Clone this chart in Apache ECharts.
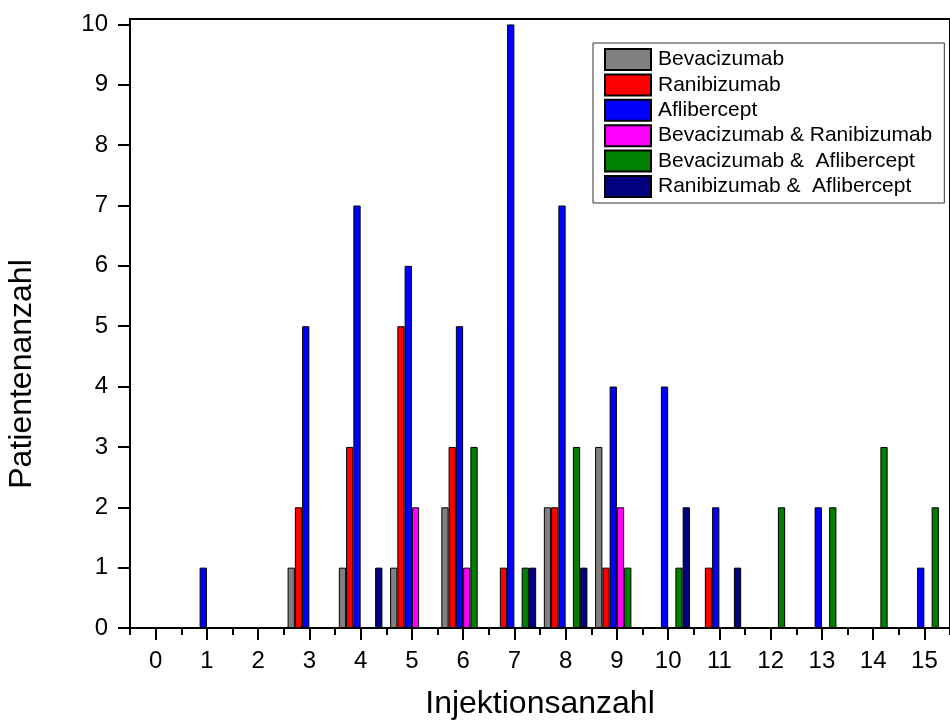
<!DOCTYPE html>
<html>
<head>
<meta charset="utf-8">
<script src="https://cdn.jsdelivr.net/npm/echarts@6/dist/echarts.min.js"></script>
<style>
html,body{margin:0;padding:0;background:#fff;}
#chart{width:950px;height:727px;}
</style>
</head>
<body>
<div id="chart"></div>
<script>
const categories = ['0','1','2','3','4','5','6','7','8','9','10','11','12','13','14','15'];
const yTicks = [0,1,2,3,4,5,6,7,8,9,10];
const bevacizumab   = [0,0,0,1,1,1,2,0,2,3,0,0,0,0,0,0];
const ranibizumab   = [0,0,0,2,3,5,3,1,2,1,0,1,0,0,0,0];
const aflibercept   = [0,1,0,5,7,6,5,10,7,4,4,2,0,2,0,1];
const bevaRani      = [0,0,0,0,0,2,1,0,0,2,0,0,0,0,0,0];
const bevaAfli      = [0,0,0,0,0,0,3,1,3,1,1,0,2,2,3,2];
const raniAfli      = [0,0,0,0,1,0,0,1,1,0,2,1,0,0,0,0];
const seriesNames = ['Bevacizumab','Ranibizumab','Aflibercept','Bevacizumab & Ranibizumab','Bevacizumab &  Aflibercept','Ranibizumab &  Aflibercept'];
const seriesColors = ['#808080','#ff0000','#0000ff','#ff00ff','#008000','#000080'];
const seriesData = [bevacizumab, ranibizumab, aflibercept, bevaRani, bevaAfli, raniAfli];

const FONT = 'Liberation Sans, Arial, sans-serif';
const chart = echarts.init(document.getElementById('chart'), null, {renderer:'canvas'});

const series = seriesNames.map((n,i)=>({
  name:n, type:'bar', xAxisIndex:0, yAxisIndex:0,
  data: seriesData[i].map(v => v === 0 ? null : v),
  barGap:'0%', barCategoryGap:'15%',
  itemStyle:{color:seriesColors[i], borderColor:'#000', borderWidth:1},
  emphasis:{disabled:true}, animation:false
}));

chart.setOption({
  animation:false,
  backgroundColor:'#fff',
  grid:{left:130, top:19, width:826, height:609, show:true, borderColor:'#000', borderWidth:2, backgroundColor:'transparent', containLabel:false},
  legend:{
    orient:'vertical', left:593, top:43,
    padding:[5,12,5,11], itemGap:2.4, itemWidth:46, itemHeight:21,
    borderColor:'#333', borderWidth:1, backgroundColor:'#fff',
    textStyle:{fontFamily:FONT, fontSize:21, lineHeight:21, color:'#000', padding:[0,0,0,2]},
    icon:'rect', selectedMode:false,
    data:seriesNames
  },
  xAxis:[{
    type:'category', data:categories, position:'bottom',
    axisLine:{show:true, lineStyle:{color:'#000', width:2}},
    axisTick:{show:true, alignWithLabel:true, length:12, lineStyle:{color:'#000', width:2}},
    axisLabel:{fontFamily:FONT, fontSize:24, color:'#000', margin:21, interval:0},
    splitLine:{show:false},
    name:'Injektionsanzahl', nameLocation:'middle', nameGap:60,
    nameTextStyle:{fontFamily:FONT, fontSize:32, color:'#000'}
  },{
    type:'category', data:categories, position:'bottom', gridIndex:0,
    axisLine:{show:false},
    axisTick:{show:true, alignWithLabel:false, length:7, lineStyle:{color:'#000', width:2}},
    axisLabel:{show:false}, splitLine:{show:false}
  }],
  yAxis:{
    type:'value', min:0, max:10.09,
    axisLine:{show:true, lineStyle:{color:'#000', width:2}},
    axisTick:{show:true, length:12, customValues:yTicks, lineStyle:{color:'#000', width:2}},
    axisLabel:{fontFamily:FONT, fontSize:24, color:'#000', margin:22, customValues:yTicks},
    splitLine:{show:false}
  },
  graphic:[{
    type:'text', x:22, y:374, rotation:Math.PI/2,
    style:{text:'Patientenanzahl', fontFamily:FONT, fontSize:32, fill:'#000', textAlign:'center', textVerticalAlign:'middle'}
  }],
  series:series
});
</script>
</body>
</html>
